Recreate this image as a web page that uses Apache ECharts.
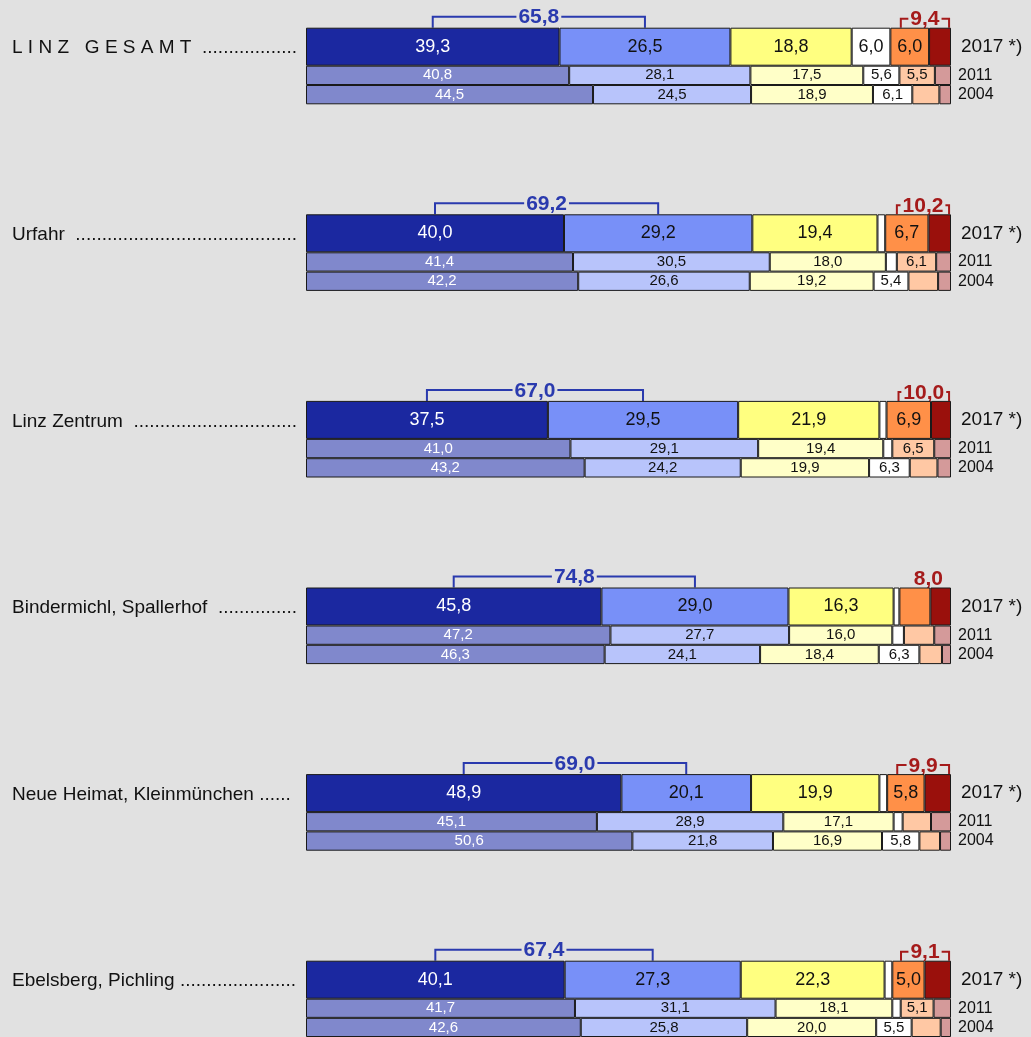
<!DOCTYPE html>
<html>
<head>
<meta charset="utf-8">
<script src="https://cdn.jsdelivr.net/npm/echarts@6/dist/echarts.min.js"></script>
<style>
html, body { margin: 0; padding: 0; background: #e1e1e1; }
#chart { width: 1031px; height: 1037px; }
</style>
</head>
<body>
<div id="chart"></div>
<script>
// district labels (with dot leaders as in the original)
const groupNames = [
  'L I N Z   G E S A M T  ..................',
  'Urfahr  ..........................................',
  'Linz Zentrum  ...............................',
  'Bindermichl, Spallerhof  ...............',
  'Neue Heimat, Kleinmünchen ......',
  'Ebelsberg, Pichling ......................'
]
const years = ['2017 *)', '2011', '2004']

// shares in % : blue dark, blue light, yellow, white, orange, dark red
const v2017 = [
  [39.3, 26.5, 18.8, 6.0, 6.0, 3.4],
  [40.0, 29.2, 19.4, 1.2, 6.7, 3.5],
  [37.5, 29.5, 21.9, 1.1, 6.9, 3.1],
  [45.8, 29.0, 16.3, 0.9, 4.8, 3.2],
  [48.9, 20.1, 19.9, 1.2, 5.8, 4.1],
  [40.1, 27.3, 22.3, 1.2, 5.0, 4.1]
]
const v2011 = [
  [40.8, 28.1, 17.5, 5.6, 5.5, 2.5],
  [41.4, 30.5, 18.0, 1.7, 6.1, 2.3],
  [41.0, 29.1, 19.4, 1.4, 6.5, 2.6],
  [47.2, 27.7, 16.0, 1.8, 4.7, 2.6],
  [45.1, 28.9, 17.1, 1.4, 4.4, 3.1],
  [41.7, 31.1, 18.1, 1.3, 5.1, 2.7]
]
const v2004 = [
  [44.5, 24.5, 18.9, 6.1, 4.2, 1.8],
  [42.2, 26.6, 19.2, 5.4, 4.6, 2.0],
  [43.2, 24.2, 19.9, 6.3, 4.3, 2.1],
  [46.3, 24.1, 18.4, 6.3, 3.5, 1.4],
  [50.6, 21.8, 16.9, 5.8, 3.2, 1.7],
  [42.6, 25.8, 20.0, 5.5, 4.5, 1.6]
]
// red sum is drawn with a bracket or as plain number
const redBracket = [true, true, true, false, true, true]

const colorsNew = ['#1b28a0', '#7890f8', '#ffff80', '#ffffff', '#ff9048', '#9a100c']
const colorsOld = ['#8088cc', '#b8c4fb', '#ffffc8', '#ffffff', '#ffc8a4', '#d49a9a']
const bg = '#e1e1e1'
const font = 'Liberation Sans, Arial, Helvetica, sans-serif'

const fmt = v => v.toFixed(1).replace('.', ',')

const chart = echarts.init(document.getElementById('chart'))
const step = 186.6
const grid = []
const xAxis = []
const yAxis = []
const series = []
const title = []

groupNames.forEach((name, g) => {
  const top = 27.7 + g * step
  grid.push({ left: 306, width: 645, top: top, height: 38 })
  grid.push({ left: 306, width: 645, top: top + 38, height: 38.6 })
  ;[0, 1].forEach(k => {
    xAxis.push({ type: 'value', gridIndex: 2 * g + k, min: 0, max: 100, show: false })
    yAxis.push({
      type: 'category',
      gridIndex: 2 * g + k,
      inverse: true,
      position: 'right',
      data: k === 0 ? [years[0]] : [years[1], years[2]],
      axisLine: { show: false },
      axisTick: { show: false },
      splitLine: { show: false },
      axisLabel: {
        interval: 0,
        fontFamily: font,
        fontSize: k === 0 ? 19 : 16,
        color: '#111',
        margin: k === 0 ? 10 : 7
      }
    })
  })
  title.push({
    text: name,
    left: 12,
    top: top + 11,
    padding: 0,
    textStyle: { fontFamily: font, fontSize: 19, fontWeight: 'normal', color: '#111' }
  })

  for (let s = 0; s < 6; s++) {
    ;[0, 1].forEach(k => {
      const vals = k === 0 ? [v2017[g][s]] : [v2011[g][s], v2004[g][s]]
      series.push({
        type: 'bar',
        xAxisIndex: 2 * g + k,
        yAxisIndex: 2 * g + k,
        stack: 'st' + g + '_' + k,
        barWidth: '100%',
        data: vals,
        silent: true,
        itemStyle: {
          color: (k === 0 ? colorsNew : colorsOld)[s],
          borderColor: '#1a1a1a',
          borderWidth: 1
        },
        label: {
          show: true,
          position: 'inside',
          fontFamily: font,
          fontSize: k === 0 ? 18 : 15,
          color: s === 0 ? '#fff' : '#111',
          formatter: p => (p.value >= 5 ? fmt(p.value) : '')
        }
      })
    })
  }

  // brackets above the 2017 bar
  const v = v2017[g]
  const o = v[0] + v[1] + v[2] + v[3]
  const brackets = [
    { x1: v[0] / 2, x2: v[0] + v[1] / 2, label: fmt(v[0] + v[1]), color: '#2a3aae', rise: 11, legs: true },
    { x1: o + v[4] * 0.27, x2: 99.7, label: fmt(v[4] + v[5]), color: '#a51b1b', rise: 9, legs: redBracket[g] }
  ]
  series.push({
    type: 'custom',
    xAxisIndex: 2 * g,
    yAxisIndex: 2 * g,
    silent: true,
    clip: false,
    data: brackets.map(b => [b.x1, 0, b.x2]),
    renderItem: (params, api) => {
      const b = brackets[params.dataIndex]
      const p1 = api.coord([api.value(0), 0])
      const p2 = api.coord([api.value(2), 0])
      const h = api.size([0, 1])[1]
      const yTop = p1[1] - h / 2
      const yLine = yTop - b.rise
      const children = []
      if (b.legs) {
        children.push({
          type: 'polyline',
          shape: { points: [[p1[0], yTop], [p1[0], yLine], [p2[0], yLine], [p2[0], yTop]] },
          style: { stroke: b.color, lineWidth: 2, fill: null }
        })
      }
      children.push({
        type: 'text',
        x: (p1[0] + p2[0]) / 2,
        y: yLine + 1,
        style: {
          text: b.label,
          fill: b.color,
          font: 'bold 21px ' + font,
          align: 'center',
          verticalAlign: 'middle',
          backgroundColor: bg,
          padding: [0, 2]
        }
      })
      return { type: 'group', children: children }
    }
  })
})

chart.setOption({
  backgroundColor: bg,
  animation: false,
  title: title,
  grid: grid,
  xAxis: xAxis,
  yAxis: yAxis,
  series: series
})

window.addEventListener('resize', () => {
  chart.resize()
})
</script>
</body>
</html>
